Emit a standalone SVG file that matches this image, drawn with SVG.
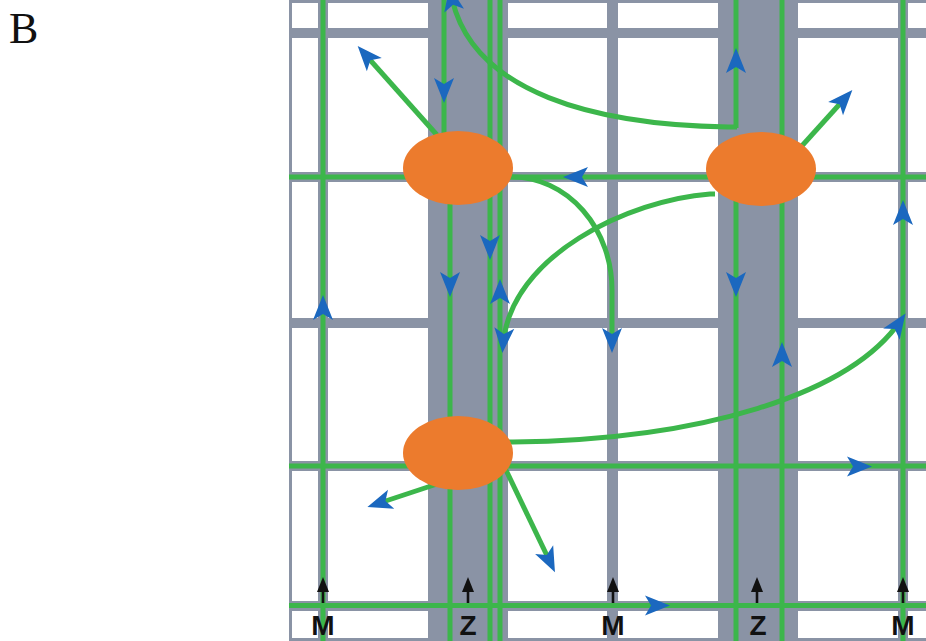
<svg xmlns="http://www.w3.org/2000/svg" xmlns:xlink="http://www.w3.org/1999/xlink" width="926" height="641" viewBox="0 0 926 641">
  <style>
    .grid { fill: #8a93a5; }
    .g { stroke: #3cb64b; stroke-width: 5; fill: none; }
    .cell { fill: #ec7b2d; }
    .lbl { font-family: "Liberation Sans", Arial, sans-serif; font-weight: bold; font-size: 28px; fill: #111; text-anchor: middle; }
    .blk { stroke: #111; stroke-width: 2.6; }
  </style>
  <defs>
    <path id="ah" d="M0,0 L-25,-10 L-19,0 L-25,10 Z" fill="#1b68bf"/>
    <marker id="arr" markerUnits="userSpaceOnUse" markerWidth="30" markerHeight="24" refX="-8" refY="0" orient="auto" overflow="visible">
      <use xlink:href="#ah"/>
    </marker>
    <path id="bah" d="M-6,15 L0,0 L6,15 Z" fill="#111"/>
  </defs>
  <rect width="926" height="641" fill="#ffffff"/>
  <text x="9" y="43" font-family="Liberation Serif, 'Times New Roman', serif" font-size="44" fill="#111">B</text>

  <g id="grid">
    <rect class="grid" x="289" y="0" width="637" height="3"/>
    <rect class="grid" x="289" y="0" width="3" height="641"/>
    <rect class="grid" x="289" y="638" width="637" height="3"/>
    <rect class="grid" x="289" y="28" width="637" height="10"/>
    <rect class="grid" x="289" y="172" width="637" height="10"/>
    <rect class="grid" x="289" y="318" width="637" height="10"/>
    <rect class="grid" x="289" y="461" width="637" height="10"/>
    <rect class="grid" x="289" y="601" width="637" height="10"/>
    <rect class="grid" x="318" y="0" width="10" height="641"/>
    <rect class="grid" x="607" y="0" width="11" height="641"/>
    <rect class="grid" x="898" y="0" width="10" height="641"/>
    <rect class="grid" x="428" y="0" width="80" height="641"/>
    <rect class="grid" x="718" y="0" width="80" height="641"/>
  </g>

  <g id="connectors">
    <!-- straight tracks -->
    <path class="g" d="M323,0 V641"/>
    <path class="g" d="M444,0 V150"/>
    <path class="g" d="M450,190 V641"/>
    <path class="g" d="M490,0 V641"/>
    <path class="g" d="M500,0 V641"/>
    <path class="g" d="M736,0 V128"/>
    <path class="g" d="M736,200 V641"/>
    <path class="g" d="M782,0 V641"/>
    <path class="g" d="M903,0 V641"/>
    <path class="g" d="M289,177 H926"/>
    <path class="g" d="M289,466 H926"/>
    <path class="g" d="M289,605.5 H926"/>
    <!-- curved and diagonal paths -->
    <path class="g" d="M737,127 L728,127 C600,125 470,95 451,-6" marker-end="url(#arr)"/>
    <path class="g" d="M437,135 L363,52" marker-end="url(#arr)"/>
    <path class="g" d="M800,148 L847,96" marker-end="url(#arr)"/>
    <path class="g" d="M505,177 L513,177 A100,113 0 0 1 612,290 L612,345" marker-end="url(#arr)"/>
    <path class="g" d="M715,194 L710,194 C630,200 510,255 503,345" marker-end="url(#arr)"/>
    <path class="g" d="M505,442 L513,442 C700,440 850,395 901,320" marker-end="url(#arr)"/>
    <path class="g" d="M440,483 L375,504.5" marker-end="url(#arr)"/>
    <path class="g" d="M505,468 L551.5,565" marker-end="url(#arr)"/>
    <!-- mid-track arrowheads -->
    <use xlink:href="#ah" transform="translate(323,295) rotate(-90)"/>
    <use xlink:href="#ah" transform="translate(444,103) rotate(90)"/>
    <use xlink:href="#ah" transform="translate(450,297) rotate(90)"/>
    <use xlink:href="#ah" transform="translate(490,260) rotate(90)"/>
    <use xlink:href="#ah" transform="translate(500,279) rotate(-90)"/>
    <use xlink:href="#ah" transform="translate(563,177) rotate(180)"/>
    <use xlink:href="#ah" transform="translate(736,48) rotate(-90)"/>
    <use xlink:href="#ah" transform="translate(736,297) rotate(90)"/>
    <use xlink:href="#ah" transform="translate(782,342) rotate(-90)"/>
    <use xlink:href="#ah" transform="translate(903,200) rotate(-90)"/>
    <use xlink:href="#ah" transform="translate(872,466.5) rotate(0)"/>
    <use xlink:href="#ah" transform="translate(670,605.5) rotate(0)"/>
  </g>

  <g id="node-top-left"><ellipse class="cell" cx="458" cy="168" rx="55" ry="37"/></g>
  <g id="node-top-right"><ellipse class="cell" cx="761" cy="169" rx="55" ry="37"/></g>
  <g id="node-bottom-left"><ellipse class="cell" cx="458" cy="453" rx="55" ry="37"/></g>

  <g id="labels">
    <g id="label-m1"><line class="blk" x1="323" y1="603" x2="323" y2="590"/><use xlink:href="#bah" transform="translate(323,577)"/><text class="lbl" x="323" y="635">M</text></g>
    <g id="label-z1"><line class="blk" x1="468" y1="603" x2="468" y2="590"/><use xlink:href="#bah" transform="translate(468,577)"/><text class="lbl" x="468" y="635">Z</text></g>
    <g id="label-m2"><line class="blk" x1="613" y1="603" x2="613" y2="590"/><use xlink:href="#bah" transform="translate(613,577)"/><text class="lbl" x="613" y="635">M</text></g>
    <g id="label-z2"><line class="blk" x1="757" y1="603" x2="757" y2="590"/><use xlink:href="#bah" transform="translate(757,577)"/><text class="lbl" x="758" y="635">Z</text></g>
    <g id="label-m3"><line class="blk" x1="903" y1="603" x2="903" y2="590"/><use xlink:href="#bah" transform="translate(903,577)"/><text class="lbl" x="903" y="635">M</text></g>
  </g>
</svg>
